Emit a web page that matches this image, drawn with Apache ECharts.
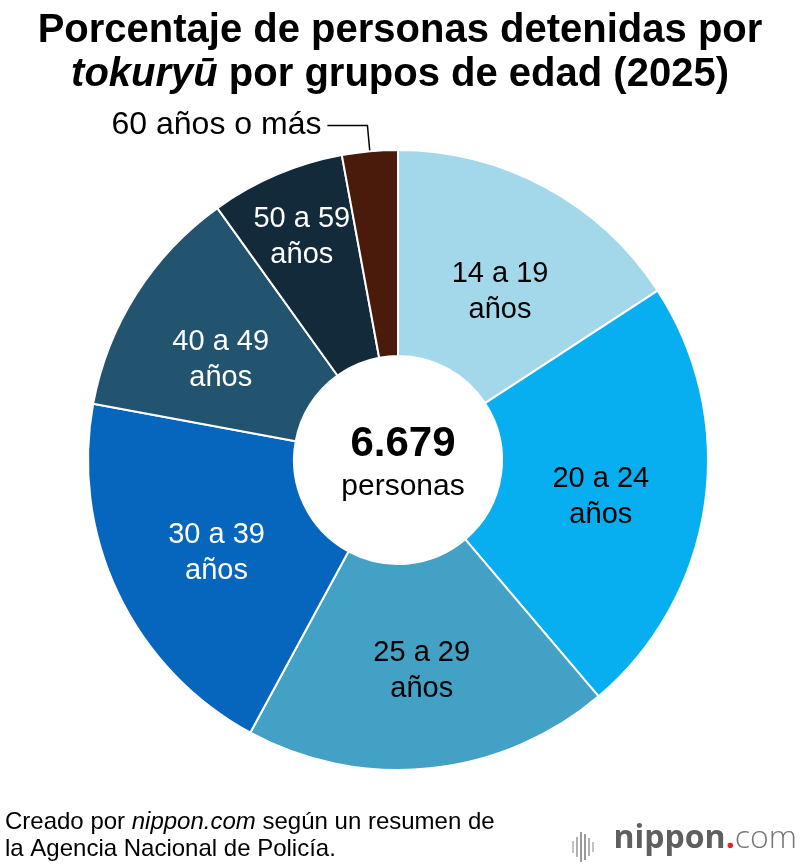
<!DOCTYPE html>
<html>
<head>
<meta charset="utf-8">
<script src="https://cdn.jsdelivr.net/npm/echarts@6/dist/echarts.min.js"></script>
<style>
  html, body { margin: 0; padding: 0; background: #fff; }
  #main { width: 800px; height: 868px; }
</style>
</head>
<body>
<div id="main"></div>
<script>
var categories = ['14 a 19\naños', '20 a 24\naños', '25 a 29\naños', '30 a 39\naños', '40 a 49\naños', '50 a 59\naños', '60 años o más'];
var shares = [15.8, 23.0, 19.1, 20.0, 12.2, 7.0, 2.9];
var colors = ['#a3d7ea', '#08aff0', '#43a1c5', '#0666bd', '#22536f', '#132a3b', '#4a1a0b'];
var labelColors = ['#000', '#000', '#000', '#fff', '#fff', '#fff', '#000'];
var total = '6.679';

var font = '"Liberation Sans", Arial, sans-serif';
var myChart = echarts.init(document.getElementById('main'));

// nudges for the inside labels, [dx, dy]
var labelShift = [[2, 17], [-5, 7], [2, 2], [8, 2], [0, 13], [-14, -30]];

var data = [];
for (var i = 0; i < categories.length; i++) {
    var item = {
        name: categories[i],
        value: shares[i],
        itemStyle: { color: colors[i] },
        label: { color: labelColors[i] }
    };
    if (i == categories.length - 1) {
        item.label = {
            position: 'outside',
            color: '#000',
            fontSize: 32,
            distanceToLabelLine: 6
        };
        item.labelLine = {
            show: true,
            length: 26,
            length2: 40,
            lineStyle: { color: '#000', width: 1.5 }
        };
    }
    data.push(item);
}

option = {
    backgroundColor: '#fff',
    title: [
        {
            text: 'Porcentaje de personas detenidas por\n{i|tokuryū} por grupos de edad (2025)',
            left: 'center',
            top: 4,
            textStyle: {
                fontFamily: font,
                fontSize: 40,
                fontWeight: 'bold',
                color: '#000',
                lineHeight: 44,
                rich: {
                    i: { fontFamily: font, fontSize: 40, fontWeight: 'bold', fontStyle: 'italic', color: '#000', lineHeight: 44 }
                }
            }
        },
        {
            text: total,
            subtext: 'personas',
            left: 398,
            top: 418,
            textAlign: 'center',
            itemGap: 7,
            textStyle: { fontFamily: font, fontSize: 42, fontWeight: 'bold', color: '#000' },
            subtextStyle: { fontFamily: font, fontSize: 30, color: '#000' }
        },
        {
            text: 'Creado por {i|nippon.com} según un resumen de\nla Agencia Nacional de Policía.',
            left: 0,
            top: 804,
            textStyle: {
                fontFamily: font,
                fontSize: 24,
                fontWeight: 'normal',
                color: '#000',
                lineHeight: 27,
                rich: {
                    i: { fontFamily: font, fontSize: 24, fontStyle: 'italic', color: '#000', lineHeight: 27 }
                }
            }
        }
    ],
    graphic: [
        {
            type: 'text',
            right: 3,
            top: 823,
            style: {
                text: '{b|nippon}{r|.}{l|com}',
                rich: {
                    b: { fontFamily: '"Open Sans", sans-serif', fontSize: 32, fontWeight: 'bold', fill: '#5f5f5f' },
                    r: { fontFamily: '"Open Sans", sans-serif', fontSize: 32, fontWeight: 'bold', fill: '#e8202a' },
                    l: { fontFamily: '"Open Sans", sans-serif', fontSize: 32, fontWeight: 300, fill: '#777' }
                }
            }
        },
        {
            type: 'group',
            left: 572,
            top: 832,
            children: [
                { type: 'rect', shape: { x: 0, y: 9, width: 2, height: 12 }, style: { fill: '#c4c4c4' } },
                { type: 'rect', shape: { x: 4, y: 5, width: 2, height: 20 }, style: { fill: '#b0b0b0' } },
                { type: 'rect', shape: { x: 8, y: 0, width: 2, height: 30 }, style: { fill: '#9a9a9a' } },
                { type: 'rect', shape: { x: 12, y: 2, width: 2, height: 26 }, style: { fill: '#9a9a9a' } },
                { type: 'rect', shape: { x: 16, y: 6, width: 2, height: 18 }, style: { fill: '#b0b0b0' } },
                { type: 'rect', shape: { x: 20, y: 10, width: 2, height: 10 }, style: { fill: '#c4c4c4' } }
            ]
        }
    ],
    series: [
        {
            type: 'pie',
            center: [398, 460],
            radius: [104, 310],
            startAngle: 90,
            clockwise: true,
            avoidLabelOverlap: false,
            silent: true,
            animation: false,
            itemStyle: { borderColor: '#fff', borderWidth: 2 },
            label: {
                show: true,
                position: 'inside',
                fontFamily: font,
                fontSize: 29,
                lineHeight: 36,
                formatter: '{b}'
            },
            labelLine: { show: false },
            labelLayout: function (params) {
                var s = labelShift[params.dataIndex];
                if (s) {
                    return { dx: s[0], dy: s[1] };
                }
                return {};
            },
            data: data
        }
    ]
};

myChart.setOption(option);
</script>
</body>
</html>
